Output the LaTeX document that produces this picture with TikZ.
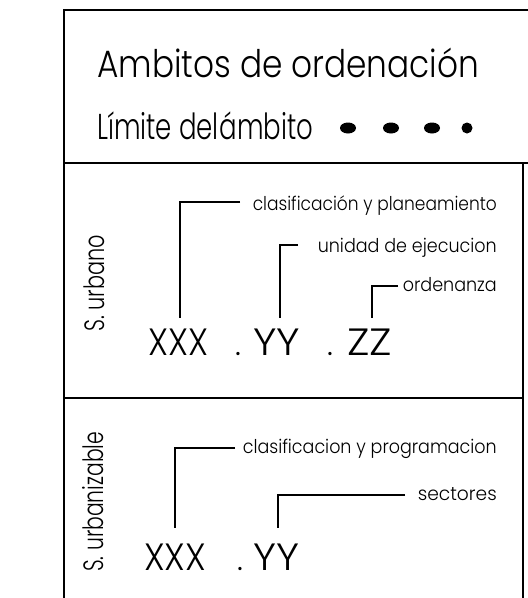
\documentclass[tikz,border=0pt]{standalone}
\usepackage{graphicx}
\usepackage{fontspec}
\setmainfont{Poppins}[UprightFont=* Light]
\newcommand\fitw[3]{\resizebox{#1}{\height}{\fontsize{#2}{#2}\selectfont #3}}
\tikzset{
  frame/.style={line width=2pt, line cap=rect},
  leader/.style={line width=1.4pt},
  lbl/.style={inner sep=0pt, anchor=base east},
  txt/.style={inner sep=0pt, anchor=base west},
  dotmark/.style={fill=black, draw=none},
}
\begin{document}
\begin{tikzpicture}[x=1pt,y=-1pt]
\useasboundingbox (0,0) rectangle (528,598);
% frame
\draw[frame] (528,10) -- (64,10) -- (64,600);
\draw[frame] (64,163) -- (528,163);
\draw[frame] (64,398) -- (523,398);
\draw[frame] (523,163) -- (523,600);

% header
\node[txt] (title) at (97,77) {\fitw{382pt}{38}{Ambitos de ordenación}};
\node[txt] (limite) at (97,139) {\fitw{216pt}{36}{Límite del\hspace{1pt}ámbito}};
\fill[dotmark] (348,128) ellipse [x radius=8, y radius=5.5];
\fill[dotmark] (391,128) ellipse [x radius=8, y radius=5.5];
\fill[dotmark] (432,128) ellipse [x radius=8, y radius=5.5];
\fill[dotmark] (467,128) ellipse [x radius=5.5, y radius=5.5];

% S. urbano
\node[txt, rotate=90] (surb) at (104,332) {\fitw{97pt}{28}{S. urbano}};
\node[lbl] (cp) at (497,210) {\fitw{244pt}{19}{clasificación y planeamiento}};
\node[lbl] (ue) at (497,252) {\fitw{179pt}{19}{unidad de ejecucion}};
\node[lbl] (ord) at (497,291) {\fitw{94pt}{19}{ordenanza}};
\node[txt] (x1) at (148,355) {\fitw{60pt}{38}{XXX}};
\node[txt] (d1) at (235,355) {\fontsize{32}{32}\selectfont .};
\node[txt] (y1) at (253,355) {\fitw{47pt}{38}{YY}};
\node[txt] (d2) at (327,355) {\fontsize{32}{32}\selectfont .};
\node[txt] (z1) at (347,355) {\fitw{45pt}{38}{ZZ}};
\coordinate (a1) at (240,202);
\coordinate (a2) at (298,245);
\coordinate (a3) at (398,286);
\draw[leader] (a1) -- (180,202) -- (180,318);
\draw[leader] (a2) -- (280,245) -- (280,318);
\draw[leader] (a3) -- (372,286) -- (372,318);

% S. urbanizable
\node[txt, rotate=90] (surbz) at (103,572) {\fitw{140pt}{28}{S. urbanizable}};
\node[lbl] (cpr) at (497,453) {\fitw{254pt}{19}{clasificacion y programacion}};
\node[lbl] (sec) at (497,500) {\fitw{79pt}{19}{sectores}};
\node[txt] (x2) at (144,570) {\fitw{62pt}{38}{XXX}};
\node[txt] (d3) at (237,570) {\fontsize{32}{32}\selectfont .};
\node[txt] (y2) at (253,570) {\fitw{46pt}{38}{YY}};
\coordinate (b1) at (235,448);
\coordinate (b2) at (405,495);
\draw[leader] (b1) -- (175,448) -- (175,528);
\draw[leader] (b2) -- (278,495) -- (278,528);
\end{tikzpicture}
\end{document}
